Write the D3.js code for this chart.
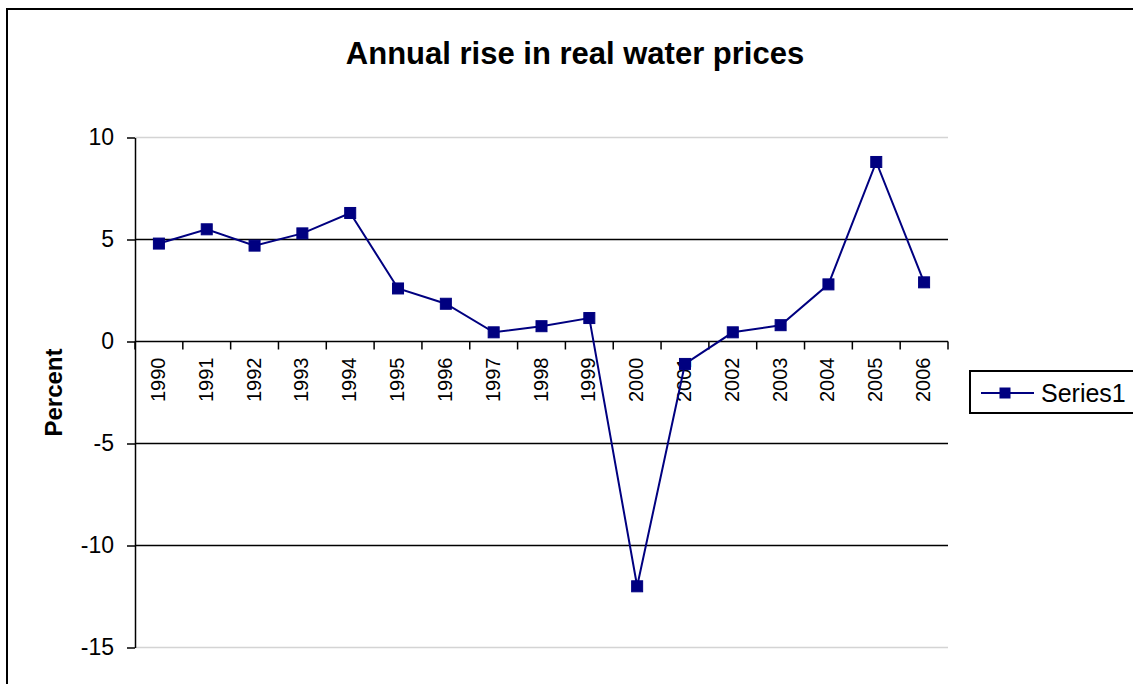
<!DOCTYPE html>
<html>
<head>
<meta charset="utf-8">
<script src="https://cdn.jsdelivr.net/npm/d3@7"></script>
<style>
  body { margin: 0; background: #fff; }
  text { font-family: "Liberation Sans", Arial, sans-serif; }
</style>
</head>
<body>
<svg id="chart"></svg>
<script>
// chart data
const years = ["1990", "1991", "1992", "1993", "1994", "1995", "1996", "1997", "1998",
  "1999", "2000", "2001", "2002", "2003", "2004", "2005", "2006"];
const series1 = [4.8, 5.5, 4.7, 5.3, 6.3, 2.6, 1.85, 0.45, 0.75, 1.15, -12.0, -1.1, 0.45, 0.8, 2.8, 8.8, 2.9];
const yTicks = [-15, -10, -5, 0, 5, 10];
const seriesName = "Series1";
const titleText = "Annual rise in real water prices";
const yTitle = "Percent";

const W = 1133, H = 684;
const margin = { top: 137.5, right: 185, bottom: 36.5, left: 135 };
const navy = "#000080";
const font = "'Liberation Sans', Arial, sans-serif";

const svg = d3.select("#chart").attr("width", W).attr("height", H);

// outer chart frame
svg.append("rect")
  .attr("x", 7).attr("y", 9)
  .attr("width", W + 20).attr("height", H + 20)
  .attr("fill", "none").attr("stroke", "#000").attr("stroke-width", 2);

const x = d3.scaleBand().domain(years).range([margin.left, W - margin.right]).padding(0);
const y = d3.scaleLinear().domain([-15, 10]).range([H - margin.bottom, margin.top]);

// gridlines (top and bottom ones are the light plot-area edge)
svg.append("g")
  .selectAll("line")
  .data(yTicks)
  .join("line")
  .attr("x1", margin.left).attr("x2", W - margin.right)
  .attr("y1", d => y(d)).attr("y2", d => y(d))
  .attr("stroke", d => (d === 10 || d === -15) ? "#d4d4d4" : "#000")
  .attr("stroke-width", 1.5);

// y axis
const yAxis = d3.axisLeft(y)
  .tickValues(yTicks)
  .tickFormat(d => String(d))
  .tickSize(8).tickSizeOuter(0).tickPadding(13);
const yAxisG = svg.append("g")
  .attr("transform", `translate(${margin.left},0)`)
  .call(yAxis);
yAxisG.attr("font-size", 23).attr("font-family", font);
yAxisG.select(".domain").attr("stroke", "#000").attr("stroke-width", 1.5);
yAxisG.selectAll(".tick line").attr("stroke", "#000").attr("stroke-width", 1.5);
yAxisG.selectAll(".tick text").attr("fill", "#000");

// x axis along zero line, ticks between categories
const xTickPos = years.map(d => x(d)).concat([x.range()[1]]);
svg.append("g")
  .selectAll("line")
  .data(xTickPos)
  .join("line")
  .attr("x1", d => d).attr("x2", d => d)
  .attr("y1", y(0)).attr("y2", y(0) + 8)
  .attr("stroke", "#000").attr("stroke-width", 1.5);

svg.append("g")
  .selectAll("text")
  .data(years)
  .join("text")
  .attr("transform", d => `translate(${x(d) + x.bandwidth() / 2 + 6},${y(0) + 16}) rotate(-90)`)
  .attr("text-anchor", "end")
  .attr("font-size", 20)
  .text(d => d);

// series line
const line = d3.line()
  .x((d, i) => x(years[i]) + x.bandwidth() / 2)
  .y(d => y(d));

svg.append("path")
  .datum(series1)
  .attr("d", line)
  .attr("fill", "none")
  .attr("stroke", navy)
  .attr("stroke-width", 2);

const ms = 11;
svg.append("g")
  .selectAll("rect")
  .data(series1)
  .join("rect")
  .attr("x", (d, i) => x(years[i]) + x.bandwidth() / 2 - ms / 2)
  .attr("y", d => y(d) - ms / 2)
  .attr("width", ms).attr("height", ms)
  .attr("fill", navy).attr("stroke", navy).attr("stroke-width", 1);

// title
svg.append("text")
  .attr("x", 575).attr("y", 64)
  .attr("text-anchor", "middle")
  .attr("font-size", 31).attr("font-weight", "bold")
  .text(titleText);

// y axis title
svg.append("text")
  .attr("transform", `translate(62,${(y(10) + y(-15)) / 2}) rotate(-90)`)
  .attr("text-anchor", "middle")
  .attr("font-size", 24).attr("font-weight", "bold")
  .text(yTitle);

// legend
const lg = svg.append("g");
lg.append("rect")
  .attr("x", 970).attr("y", 371)
  .attr("width", 200).attr("height", 42)
  .attr("fill", "#fff").attr("stroke", "#000").attr("stroke-width", 2);
lg.append("line")
  .attr("x1", 981).attr("x2", 1034).attr("y1", 393).attr("y2", 393)
  .attr("stroke", navy).attr("stroke-width", 2);
lg.append("rect")
  .attr("x", 1005 - ms / 2).attr("y", 393 - ms / 2)
  .attr("width", ms).attr("height", ms)
  .attr("fill", navy);
lg.append("text")
  .attr("x", 1041).attr("y", 402)
  .attr("font-size", 25)
  .text(seriesName);
</script>
</body>
</html>
